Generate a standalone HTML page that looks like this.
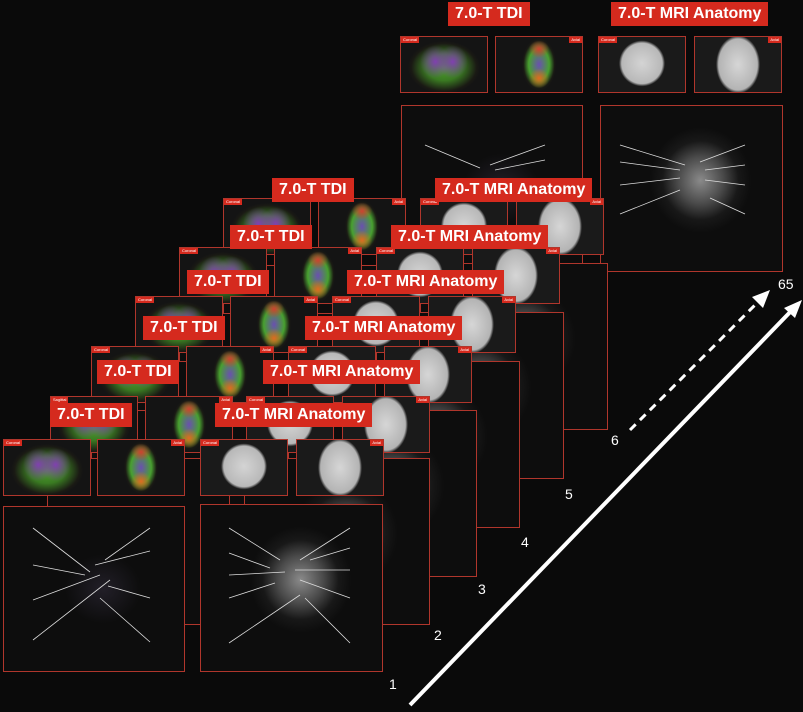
<!DOCTYPE html>
<html><head><meta charset="utf-8"><style>
body{margin:0;width:803px;height:712px;background:#0a0a0a;overflow:hidden;position:relative;font-family:"Liberation Sans",sans-serif}
.p{position:absolute;border:1px solid #b0362c;box-sizing:border-box;background:#0d0d0d;overflow:hidden}
.s{width:88px;height:57px}
.b{width:183px;height:167px}
.t{background:radial-gradient(ellipse 18% 30% at 40% 45%,#8040b0 0,transparent 100%),radial-gradient(ellipse 18% 30% at 60% 45%,#8040b0 0,transparent 100%),radial-gradient(ellipse 42% 48% at 50% 55%,#50a030 0,#3a7a22 50%,#1a1a14 90%,#141414 100%)}
.a{background:radial-gradient(ellipse 12% 18% at 50% 75%,#e06a20 0,transparent 100%),radial-gradient(ellipse 12% 16% at 50% 22%,#d04030 0,transparent 100%),radial-gradient(ellipse 20% 48% at 50% 50%,#6a50b0 0,#48a030 60%,#1a1a14 90%,#141414 100%)}
.mc{background:radial-gradient(circle 23px at 50% 48%,#d4d4d4 0,#b8b8b8 88%,#1a1a1a 100%)}
.ma{background:radial-gradient(ellipse 22px 29px at 50% 50%,#d6d6d6 0,#b4b4b4 88%,#1a1a1a 100%)}
.bt{background:radial-gradient(ellipse 30% 30% at 55% 50%,#221f28 0,#0d0d0d 70%)}
.bm{background:radial-gradient(ellipse 28% 32% at 55% 45%,#8a8a8a 0,#4a4a4a 45%,#181818 75%,#0d0d0d 100%)}
.l{position:absolute;background:#d52a1e;color:#fff;font-weight:bold;font-size:16px;height:24px;line-height:24px;padding:0 7px;white-space:nowrap}
.tag{position:absolute;top:0;background:#d52a1e;color:#fff;font-size:4px;padding:0 2px;height:6px}
.n{position:absolute;color:#fff;font-size:14px}
</style></head><body>

<!-- top layer -->
<div class="p b bt" style="left:401px;top:105px;width:182px"></div>
<div class="p b bm" style="left:600px;top:105px"></div>
<div class="p s t" style="left:400px;top:36px"><span class="tag" style="left:0">Coronal</span></div>
<div class="p s a" style="left:495px;top:36px"><span class="tag" style="right:0">Axial</span></div>
<div class="p s mc" style="left:598px;top:36px"><span class="tag" style="left:0">Coronal</span></div>
<div class="p s ma" style="left:694px;top:36px"><span class="tag" style="right:0">Axial</span></div>
<div class="l" style="left:448px;top:2px">7.0-T TDI</div>
<div class="l" style="left:611px;top:2px">7.0-T MRI Anatomy</div>

<!-- k=5 -->
<div class="p b bt" style="left:223px;top:265px"></div>
<div class="p b bm" style="left:420px;top:263px;width:188px"></div>
<div class="p s t" style="left:223px;top:198px"><span class="tag" style="left:0">Coronal</span></div>
<div class="p s a" style="left:318px;top:198px"><span class="tag" style="right:0">Axial</span></div>
<div class="p s mc" style="left:420px;top:198px"><span class="tag" style="left:0">Coronal</span></div>
<div class="p s ma" style="left:516px;top:198px"><span class="tag" style="right:0">Axial</span></div>
<div class="l" style="left:272px;top:178px">7.0-T TDI</div>
<div class="l" style="left:435px;top:178px">7.0-T MRI Anatomy</div>
<!-- k=4 -->
<div class="p b bt" style="left:179px;top:313px"></div>
<div class="p b bm" style="left:376px;top:312px;width:188px"></div>
<div class="p s t" style="left:179px;top:247px"><span class="tag" style="left:0">Coronal</span></div>
<div class="p s a" style="left:274px;top:247px"><span class="tag" style="right:0">Axial</span></div>
<div class="p s mc" style="left:376px;top:247px"><span class="tag" style="left:0">Coronal</span></div>
<div class="p s ma" style="left:472px;top:247px"><span class="tag" style="right:0">Axial</span></div>
<div class="l" style="left:230px;top:225px">7.0-T TDI</div>
<div class="l" style="left:391px;top:225px">7.0-T MRI Anatomy</div>
<!-- k=3 -->
<div class="p b bt" style="left:135px;top:361px"></div>
<div class="p b bm" style="left:332px;top:361px;width:188px"></div>
<div class="p s t" style="left:135px;top:296px"><span class="tag" style="left:0">Coronal</span></div>
<div class="p s a" style="left:230px;top:296px"><span class="tag" style="right:0">Axial</span></div>
<div class="p s mc" style="left:332px;top:296px"><span class="tag" style="left:0">Coronal</span></div>
<div class="p s ma" style="left:428px;top:296px"><span class="tag" style="right:0">Axial</span></div>
<div class="l" style="left:187px;top:270px">7.0-T TDI</div>
<div class="l" style="left:347px;top:270px">7.0-T MRI Anatomy</div>
<!-- k=2 -->
<div class="p b bt" style="left:91px;top:410px"></div>
<div class="p b bm" style="left:288px;top:410px;width:189px"></div>
<div class="p s t" style="left:91px;top:346px"><span class="tag" style="left:0">Coronal</span></div>
<div class="p s a" style="left:186px;top:346px"><span class="tag" style="right:0">Axial</span></div>
<div class="p s mc" style="left:288px;top:346px"><span class="tag" style="left:0">Coronal</span></div>
<div class="p s ma" style="left:384px;top:346px"><span class="tag" style="right:0">Axial</span></div>
<div class="l" style="left:143px;top:316px">7.0-T TDI</div>
<div class="l" style="left:305px;top:316px">7.0-T MRI Anatomy</div>
<!-- k=1 -->
<div class="p b bt" style="left:47px;top:458px"></div>
<div class="p b bm" style="left:244px;top:458px;width:186px"></div>
<div class="p s t" style="left:50px;top:396px"><span class="tag" style="left:0">Sagittal</span></div>
<div class="p s a" style="left:145px;top:396px"><span class="tag" style="right:0">Axial</span></div>
<div class="p s mc" style="left:246px;top:396px"><span class="tag" style="left:0">Coronal</span></div>
<div class="p s ma" style="left:342px;top:396px"><span class="tag" style="right:0">Axial</span></div>
<div class="l" style="left:97px;top:360px">7.0-T TDI</div>
<div class="l" style="left:263px;top:360px">7.0-T MRI Anatomy</div>
<!-- k=0 -->
<div class="p b bt" style="left:3px;top:506px;width:182px;height:166px"></div>
<div class="p b bm" style="left:200px;top:504px;height:168px"></div>
<div class="p s t" style="left:3px;top:439px"><span class="tag" style="left:0">Coronal</span></div>
<div class="p s a" style="left:97px;top:439px"><span class="tag" style="right:0">Axial</span></div>
<div class="p s mc" style="left:200px;top:439px"><span class="tag" style="left:0">Coronal</span></div>
<div class="p s ma" style="left:296px;top:439px"><span class="tag" style="right:0">Axial</span></div>
<div class="l" style="left:50px;top:403px">7.0-T TDI</div>
<div class="l" style="left:215px;top:403px">7.0-T MRI Anatomy</div>

<svg width="803" height="712" style="position:absolute;left:0;top:0">
<g stroke="#ddd" stroke-width="0.8">
<line x1="33" y1="528" x2="90" y2="572"/><line x1="33" y1="565" x2="85" y2="575"/><line x1="33" y1="600" x2="100" y2="575"/><line x1="33" y1="640" x2="110" y2="580"/>
<line x1="150" y1="528" x2="105" y2="560"/><line x1="150" y1="551" x2="95" y2="565"/><line x1="150" y1="598" x2="108" y2="586"/><line x1="150" y1="642" x2="100" y2="598"/>
<line x1="229" y1="528" x2="280" y2="560"/><line x1="229" y1="553" x2="270" y2="568"/><line x1="229" y1="575" x2="285" y2="572"/><line x1="229" y1="598" x2="275" y2="583"/><line x1="229" y1="643" x2="300" y2="595"/>
<line x1="350" y1="528" x2="300" y2="560"/><line x1="350" y1="548" x2="310" y2="560"/><line x1="350" y1="570" x2="295" y2="570"/><line x1="350" y1="598" x2="300" y2="580"/><line x1="350" y1="643" x2="305" y2="598"/>
<line x1="620" y1="145" x2="685" y2="165"/><line x1="620" y1="162" x2="680" y2="170"/><line x1="620" y1="185" x2="680" y2="178"/><line x1="620" y1="214" x2="680" y2="190"/>
<line x1="745" y1="145" x2="700" y2="162"/><line x1="745" y1="165" x2="705" y2="170"/><line x1="745" y1="185" x2="705" y2="180"/><line x1="745" y1="214" x2="710" y2="198"/>
<line x1="425" y1="145" x2="480" y2="168"/><line x1="545" y1="145" x2="490" y2="165"/><line x1="545" y1="160" x2="495" y2="170"/>
</g>
<line x1="410" y1="705" x2="795" y2="307" stroke="#fff" stroke-width="4"/>
<polygon points="802,300 784,308 795,318" fill="#fff"/>
<line x1="630" y1="430" x2="762" y2="298" stroke="#fff" stroke-width="3" stroke-dasharray="8,6"/>
<polygon points="770,290 752,297 763,308" fill="#fff"/>
</svg>
<div class="n" style="left:389px;top:676px">1</div>
<div class="n" style="left:434px;top:627px">2</div>
<div class="n" style="left:478px;top:581px">3</div>
<div class="n" style="left:521px;top:534px">4</div>
<div class="n" style="left:565px;top:486px">5</div>
<div class="n" style="left:611px;top:432px">6</div>
<div class="n" style="left:778px;top:276px">65</div>
</body></html>
